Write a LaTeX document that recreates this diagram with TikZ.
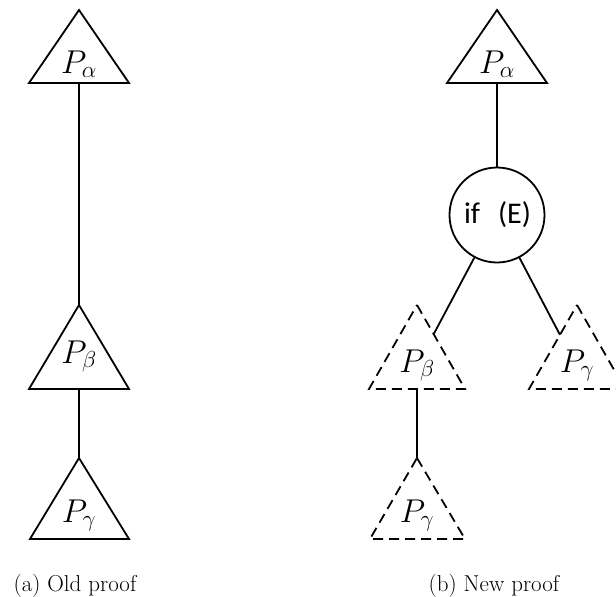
\RequirePackage{fix-cm}
\documentclass[tikz,border=0pt]{standalone}
\usepackage{fontspec}
\newfontfamily\iffont{Carlito}
\usetikzlibrary{intersections}
\begin{document}
\begin{tikzpicture}[x=1pt,y=-1pt,line width=1.8pt,line join=miter,
  lbl/.style={inner sep=0pt,anchor=base,font=\fontsize{33}{40}\selectfont},
  dsh/.style={dash pattern=on 10pt off 6pt},
  capt/.style={inner sep=0pt,anchor=base,font=\fontsize{23}{27}\selectfont},
  ifnode/.style={circle,draw,minimum size=95pt,inner sep=0pt,font=\iffont\fontsize{30}{36}\selectfont}]
\useasboundingbox (0,0) rectangle (616,597);

% ---- (a) old proof ----
\coordinate (a1t) at (79,10);  \coordinate (a1l) at (29,83);  \coordinate (a1r) at (129,83);  \coordinate (a1b) at (79,83);
\coordinate (b1t) at (79,305); \coordinate (b1l) at (29,389); \coordinate (b1r) at (129,389); \coordinate (b1b) at (79,389);
\coordinate (g1t) at (79,458); \coordinate (g1l) at (30,539); \coordinate (g1r) at (129,539); \coordinate (g1b) at (79,539);
\draw (a1t) -- (a1r) -- (a1l) -- cycle;
\draw (b1t) -- (b1r) -- (b1l) -- cycle;
\draw (g1t) -- (g1r) -- (g1l) -- cycle;
\node[lbl] (la1) at (79,73) {$P_\alpha$};
\node[lbl] (lb1) at (79,363) {$P_\beta$};
\node[lbl] (lg1) at (79,522) {$P_\gamma$};
\draw (a1b) -- (b1t);
\draw (b1b) -- (g1t);
\node[capt] (capa) at (75,591) {(a) Old proof};

% ---- (b) new proof ----
\coordinate (a2t) at (497,10);  \coordinate (a2l) at (447,83);  \coordinate (a2r) at (547,83);  \coordinate (a2b) at (497,83);
\coordinate (b2t) at (417,305); \coordinate (b2l) at (369,389); \coordinate (b2r) at (465,389); \coordinate (b2b) at (417,389);
\coordinate (g2t) at (577,305); \coordinate (g2l) at (529,389); \coordinate (g2r) at (625,389);
\coordinate (g3t) at (417,458); \coordinate (g3l) at (370,539); \coordinate (g3r) at (465,539);
\draw (a2t) -- (a2r) -- (a2l) -- cycle;
\node[lbl] (la2) at (497,73) {$P_\alpha$};
\node[ifnode] (c) at (497,215) {\hspace{1pt}if\hspace{18pt}(E)};
\draw (a2b) -- (c);
\draw[dsh,name path=b2] (b2t) -- (b2r) -- (b2l) -- cycle;
\draw[dsh,name path=g2] (g2t) -- (g2r) -- (g2l) -- cycle;
\draw[dsh] (g3t) -- (g3r) -- (g3l) -- cycle;
\node[lbl] (lb2) at (417,372) {$P_\beta$};
\node[lbl] (lg2) at (577,372) {$P_\gamma$};
\node[lbl] (lg3) at (417,522) {$P_\gamma$};
\path[name path=cb] (c.center) -- ++(-93,175);
\path[name path=cg] (c.center) -- ++(93,177);
\path[name intersections={of=cb and b2,by=hb,sort by=cb}];
\path[name intersections={of=cg and g2,by=hg,sort by=cg}];
\draw (c) -- (hb);
\draw (c) -- (hg);
\draw (b2b) -- (g3t);
\node[capt] (capb) at (494,591) {(b) New proof};
\end{tikzpicture}
\end{document}
